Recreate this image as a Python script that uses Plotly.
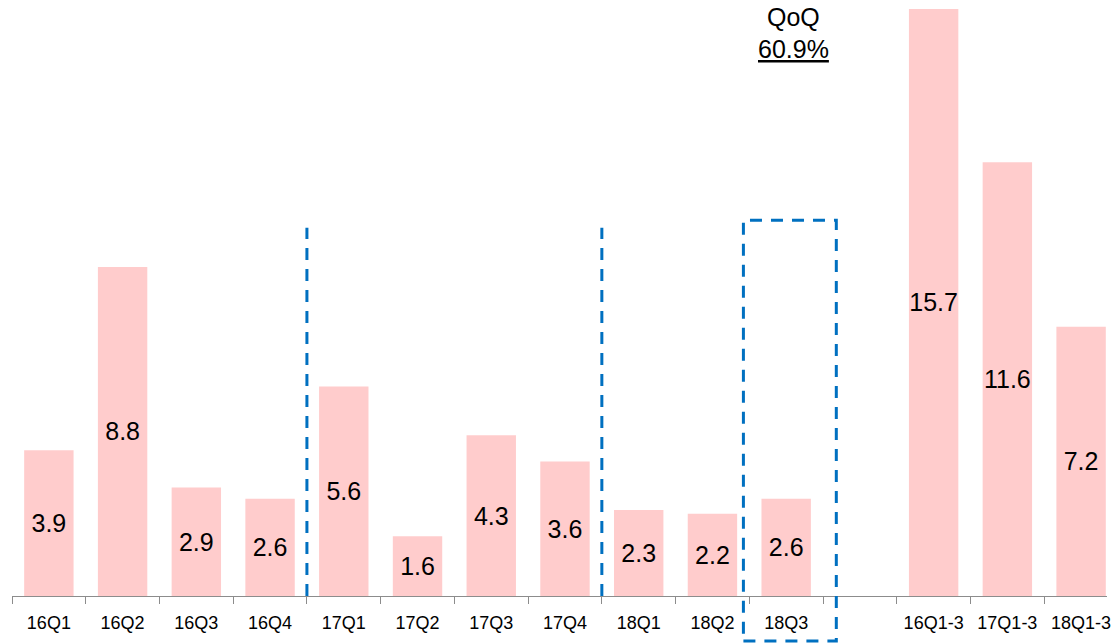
import plotly.graph_objects as go

categories = ["16Q1", "16Q2", "16Q3", "16Q4", "17Q1", "17Q2", "17Q3", "17Q4",
              "18Q1", "18Q2", "18Q3", " ", "16Q1-3", "17Q1-3", "18Q1-3"]
values = [3.9, 8.8, 2.9, 2.6, 5.6, 1.6, 4.3, 3.6, 2.3, 2.2, 2.6, None, 15.7, 11.6, 7.2]
qoq_label = "QoQ"
qoq_value = "60.9%"

W, H = 1111, 644
ML, MB = 12, 48
plot_h = H - MB
y_max = 15.94

labels = [("" if v is None else f"{v:.1f}") for v in values]

fig = go.Figure()
fig.add_trace(go.Bar(
    x=categories, y=values, text=labels,
    textposition="inside", insidetextanchor="middle", textangle=0,
    constraintext="none",
    textfont=dict(family="Liberation Sans, Arial", size=25, color="#000000"),
    marker=dict(color="#FFCCCC", line=dict(width=0)),
    width=0.67, cliponaxis=False, hoverinfo="skip",
))

def py(px):
    return (plot_h - px) / plot_h

blue = "#0070C0"
dash = "12px,9px"
shapes = []
for xb in [3.5, 7.5]:
    shapes.append(dict(type="line", xref="x", yref="y", x0=xb, x1=xb, y0=0, y1=9.85,
                       line=dict(color=blue, width=3, dash=dash)))
box_top = 10.05
shapes.append(dict(type="rect", xref="x", yref="paper", x0=9.42, x1=10.68,
                   y0=py(641), y1=box_top / y_max,
                   line=dict(color=blue, width=3, dash=dash), fillcolor="rgba(0,0,0,0)"))

annotations = [
    dict(x=10.1, y=py(17), xref="x", yref="paper", text=qoq_label, showarrow=False,
         font=dict(family="Liberation Sans, Arial", size=25, color="#000000"),
         xanchor="center", yanchor="middle"),
    dict(x=10.1, y=py(49), xref="x", yref="paper", text="<u>" + qoq_value + "</u>", showarrow=False,
         font=dict(family="Liberation Sans, Arial", size=25, color="#000000"),
         xanchor="center", yanchor="middle"),
]

x_hi = (W - ML) / 74.0 - 0.5

fig.update_layout(
    width=W, height=H,
    margin=dict(l=ML, r=0, t=0, b=MB, pad=0),
    paper_bgcolor="white", plot_bgcolor="white",
    showlegend=False,
    bargap=0.33,
    shapes=shapes, annotations=annotations,
    xaxis=dict(type="category", range=[-0.5, x_hi], tickson="boundaries",
               ticks="outside", ticklen=7, tickwidth=1, tickcolor="#8C8C8C",
               showline=True, linecolor="#8C8C8C", linewidth=1,
               showgrid=False, zeroline=False,
               tickfont=dict(family="Liberation Sans, Arial", size=18, color="#000000"),
               ticklabelstandoff=10, fixedrange=True),
    yaxis=dict(range=[0, y_max], visible=False, showgrid=False, zeroline=False, fixedrange=True),
    font=dict(family="Liberation Sans, Arial"),
)

fig.write_html("out.html", config={"displayModeBar": False})
